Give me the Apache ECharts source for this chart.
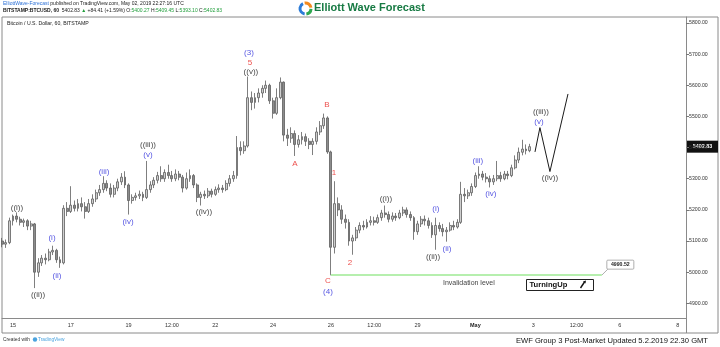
<!DOCTYPE html>
<html>
<head>
<meta charset="utf-8">
<script src="https://cdn.jsdelivr.net/npm/echarts@6/dist/echarts.min.js"></script>
<style>
  html, body { margin: 0; padding: 0; background: #fff; }
  #chart { width: 720px; height: 347px; }
</style>
</head>
<body>
<div id="chart"></div>
<script>
// BTCUSD (Bitstamp) price bars, 3-hour steps; time is hours after 15 Apr 2019 00:00 UTC
const firstBarHour = -9;
const barStepHours = 3;

const opens = [
  5100, 5090, 5095, 5165, 5180, 5170, 5160, 5165, 5148, 5155,
  5000, 5030, 5045, 5040, 5065, 5070, 5040, 5030, 5205, 5195,
  5215, 5205, 5220, 5210, 5195, 5220, 5235, 5255, 5265, 5285,
  5270, 5250, 5270, 5290, 5305, 5280, 5230, 5240, 5245, 5250,
  5240, 5265, 5280, 5295, 5310, 5300, 5320, 5310, 5300, 5315,
  5305, 5270, 5300, 5310, 5280, 5240, 5250, 5245, 5260, 5250,
  5265, 5270, 5265, 5285, 5300, 5310, 5400, 5390, 5405, 5560,
  5545, 5560, 5575, 5590, 5600, 5550, 5510, 5560, 5610, 5440,
  5430, 5445, 5410, 5425, 5435, 5420, 5410, 5420, 5450, 5470,
  5495, 5386, 5080, 5220, 5200, 5170, 5160, 5100, 5110, 5135,
  5150, 5145, 5160, 5165, 5160, 5175, 5190, 5185, 5170, 5180,
  5175, 5190, 5200, 5185, 5175, 5130, 5155, 5170, 5165, 5150,
  5120, 5150, 5140, 5130, 5135, 5150, 5145, 5160, 5250, 5245,
  5255, 5275, 5310, 5315, 5305, 5300, 5290, 5300, 5310, 5300,
  5315, 5310, 5335, 5360, 5385, 5395, 5390
];
const closes = [
  5090, 5095, 5165, 5180, 5170, 5160, 5165, 5148, 5155, 5000,
  5030, 5045, 5040, 5065, 5070, 5040, 5030, 5205, 5195, 5215,
  5205, 5220, 5210, 5195, 5220, 5235, 5255, 5265, 5285, 5270,
  5250, 5270, 5290, 5305, 5280, 5230, 5240, 5245, 5250, 5240,
  5265, 5280, 5295, 5310, 5300, 5320, 5310, 5300, 5315, 5305,
  5270, 5300, 5310, 5280, 5240, 5250, 5245, 5260, 5250, 5265,
  5270, 5265, 5285, 5300, 5310, 5400, 5390, 5405, 5560, 5545,
  5560, 5575, 5590, 5600, 5550, 5510, 5560, 5610, 5440, 5430,
  5445, 5410, 5425, 5435, 5420, 5410, 5420, 5450, 5470, 5495,
  5386, 5080, 5220, 5200, 5170, 5160, 5100, 5110, 5135, 5150,
  5145, 5160, 5165, 5160, 5175, 5190, 5185, 5170, 5180, 5175,
  5190, 5200, 5185, 5175, 5130, 5155, 5170, 5165, 5150, 5120,
  5150, 5140, 5130, 5135, 5150, 5145, 5160, 5250, 5245, 5255,
  5275, 5310, 5315, 5305, 5300, 5290, 5300, 5310, 5300, 5315,
  5310, 5335, 5360, 5385, 5395, 5390, 5402.83
];
const lows = [
  5080, 5078, 5090, 5150, 5160, 5150, 5145, 5135, 5135, 4949,
  4985, 5020, 5025, 5035, 5055, 5030, 5014, 5025, 5180, 5190,
  5195, 5195, 5195, 5172, 5190, 5210, 5225, 5245, 5255, 5260,
  5240, 5240, 5260, 5280, 5270, 5185, 5220, 5230, 5235, 5228,
  5235, 5255, 5270, 5285, 5290, 5290, 5300, 5290, 5292, 5295,
  5256, 5265, 5290, 5270, 5225, 5214, 5235, 5238, 5240, 5245,
  5255, 5255, 5260, 5275, 5290, 5300, 5375, 5380, 5400, 5520,
  5525, 5545, 5560, 5575, 5540, 5493, 5505, 5555, 5420, 5405,
  5415, 5373, 5400, 5410, 5405, 5395, 5376, 5410, 5440, 5460,
  5380, 4990, 5060, 5180, 5155, 5140, 5085, 5056, 5100, 5125,
  5135, 5140, 5150, 5150, 5155, 5165, 5175, 5160, 5162, 5165,
  5170, 5180, 5175, 5165, 5104, 5120, 5145, 5150, 5140, 5110,
  5072, 5130, 5115, 5098, 5130, 5135, 5140, 5155, 5225, 5235,
  5245, 5270, 5300, 5295, 5288, 5272, 5280, 5292, 5290, 5295,
  5298, 5305, 5330, 5350, 5375, 5378, 5385
];
const highs = [
  5110, 5105, 5175, 5185, 5192, 5178, 5172, 5170, 5165, 5158,
  5045, 5055, 5060, 5075, 5085, 5075, 5050, 5215, 5225, 5276,
  5230, 5235, 5240, 5225, 5235, 5250, 5265, 5280, 5308, 5295,
  5285, 5280, 5300, 5318, 5324, 5285, 5250, 5255, 5262, 5258,
  5357, 5292, 5305, 5322, 5340, 5330, 5345, 5325, 5330, 5325,
  5312, 5320, 5330, 5315, 5285, 5258, 5262, 5270, 5268, 5275,
  5282, 5280, 5295, 5312, 5325, 5437, 5420, 5420, 5628, 5580,
  5575, 5590, 5600, 5615, 5605, 5560, 5590, 5625, 5612, 5460,
  5465, 5455, 5440, 5450, 5445, 5430, 5430, 5465, 5485, 5509,
  5500, 5390, 5292, 5240, 5215, 5185, 5170, 5120, 5145, 5160,
  5165, 5170, 5180, 5178, 5185, 5200, 5214, 5195, 5192, 5190,
  5200, 5210, 5208, 5195, 5180, 5165, 5180, 5182, 5175, 5160,
  5175, 5160, 5155, 5145, 5160, 5165, 5170, 5290, 5270, 5265,
  5285, 5320, 5340, 5325, 5318, 5310, 5312, 5357, 5322, 5325,
  5325, 5345, 5375, 5400, 5425, 5410, 5412
];

// Axis ticks
const xTickHours  = [0, 48, 96, 132, 168, 216, 264, 300, 336, 384, 432, 468, 504, 552];
const xTickLabels = ['15', '17', '19', '12:00', '22', '24', '26', '12:00', '29', 'May', '3', '12:00', '6', '8'];
const yTickValues = [4900, 5000, 5100, 5200, 5300, 5400, 5500, 5600, 5700, 5800];

const lastClose = 5402.83;
const invalidationLevel = 4990.52;
const invalidationSpanHours = [264, 489];

// Projected path after the last bar
const projectionHours  = [433.5, 437.6, 445.9, 460.9];
const projectionPrices = [5386, 5464, 5323, 5572];

// Elliott wave labels: text, hour, price, colour key
const waveText  = ['((i))', '((ii))', '(i)', '(ii)', '(iii)', '(iv)', '(v)', '((iii))', '((iv))',
                   '(3)', '5', '((v))', 'A', 'B', '1', '2', 'C', '(4)',
                   '((i))', '((ii))', '(i)', '(ii)', '(iii)', '(iv)', '((iii))', '(v)', '((iv))'];
const waveHour  = [3.3, 20.8, 32.4, 36.6, 75.6, 95.5, 112.1, 112.1, 158.6,
                   196.0, 196.8, 197.6, 234.2, 260.7, 266.6, 279.8, 261.6, 261.6,
                   309.7, 348.8, 351.2, 360.4, 386.1, 396.9, 438.4, 436.8, 445.9];
const wavePrice = [5208, 4927, 5110, 4988, 5322, 5161, 5376, 5408, 5193,
                   5704, 5672, 5643, 5348, 5536, 5319, 5030, 4972, 4937,
                   5235, 5049, 5203, 5075, 5357, 5251, 5514, 5482, 5303];
const waveKind  = ['k', 'k', 'b', 'b', 'b', 'b', 'b', 'k', 'k',
                   'b', 'r', 'k', 'r', 'r', 'r', 'r', 'r', 'b',
                   'k', 'k', 'b', 'b', 'b', 'b', 'k', 'b', 'k'];
const kindColor = { k: '#111111', b: '#2b2bdb', r: '#e8231f' };

const FONT = '"Liberation Sans", Arial, sans-serif';

const bars = opens.map((o, i) => [firstBarHour + i * barStepHours, o, closes[i], lows[i], highs[i]]);

const chart = echarts.init(document.getElementById('chart'), null, { renderer: 'canvas' });

chart.setOption({
  animation: false,
  backgroundColor: '#ffffff',
  grid: { left: 2, right: 34, top: 17, bottom: 29, containLabel: false },
  xAxis: {
    type: 'value',
    min: -9.13,
    max: 558.9,
    axisLine: { show: true, onZero: false, lineStyle: { color: '#8a8a8a', width: 1 } },
    axisTick: { show: false },
    splitLine: { show: false },
    axisLabel: {
      customValues: xTickHours,
      margin: 4,
      fontSize: 5.5,
      fontFamily: FONT,
      color: '#333',
      formatter: v => {
        const i = xTickHours.indexOf(v);
        const t = i >= 0 ? xTickLabels[i] : '';
        return t === 'May' ? '{b|May}' : t;
      },
      rich: { b: { fontWeight: 'bold', fontSize: 5.5, fontFamily: FONT, color: '#222' } }
    }
  },
  yAxis: {
    type: 'value',
    position: 'right',
    min: 4853,
    max: 5819,
    axisLine: { show: true, onZero: false, lineStyle: { color: '#8a8a8a', width: 1 } },
    axisTick: { show: true, customValues: yTickValues, length: 3, lineStyle: { color: '#777' } },
    splitLine: { show: false },
    axisLabel: {
      customValues: yTickValues,
      margin: 3,
      fontSize: 5.2,
      fontFamily: FONT,
      color: '#333',
      formatter: v => v.toFixed(2)
    }
  },
  series: [
    {
      type: 'candlestick',
      data: bars,
      encode: { x: 0, y: [1, 2, 3, 4] },
      barWidth: 2.4,
      itemStyle: {
        color: '#cfcfcf',
        color0: '#8c8c8c',
        borderColor: '#5e5e5e',
        borderColor0: '#5e5e5e',
        borderWidth: 0.8
      },
      markLine: {
        silent: true,
        symbol: ['none', 'none'],
        label: { show: false },
        lineStyle: { color: '#b6efae', width: 2, type: 'solid' },
        data: [[
          { coord: [invalidationSpanHours[0], invalidationLevel] },
          { coord: [invalidationSpanHours[1], invalidationLevel] }
        ]]
      },
      z: 3
    },
    {
      type: 'line',
      data: projectionHours.map((h, i) => [h, projectionPrices[i]]),
      symbol: 'none',
      lineStyle: { color: '#1a1a1a', width: 1 },
      z: 4
    },
    {
      type: 'scatter',
      symbolSize: 0,
      data: waveText.map((t, i) => ({
        name: t,
        value: [waveHour[i], wavePrice[i]],
        label: { color: kindColor[waveKind[i]] }
      })),
      label: {
        show: true,
        position: 'inside',
        formatter: p => p.name,
        fontSize: 8,
        fontFamily: FONT
      },
      z: 5
    }
  ]
});

// Overlays anchored to data values
const lastPx = chart.convertToPixel({ gridIndex: 0 }, [0, lastClose]);
const invEnd = chart.convertToPixel({ gridIndex: 0 }, [invalidationSpanHours[1], invalidationLevel]);

const overlay = [
  // frame
  { type: 'rect', shape: { x: 2, y: 17, width: 716, height: 316 }, style: { fill: 'none', stroke: '#8a8a8a', lineWidth: 1 }, silent: true },
  { type: 'line', shape: { x1: 686.5, y1: 17, x2: 686.5, y2: 333 }, style: { stroke: '#8a8a8a', lineWidth: 1 }, silent: true },

  // header
  {
    type: 'text', left: 3, top: 1,
    style: {
      text: '{l|ElliottWave-Forecast} published on TradingView.com, May 02, 2019 22:27:16 UTC',
      font: '5px ' + FONT, fill: '#222',
      rich: { l: { fill: '#2a6fd6', font: '5px ' + FONT } }
    }
  },
  {
    type: 'text', left: 3, top: 8,
    style: {
      text: '{b|BITSTAMP:BTCUSD, 60}  5402.83 {g|▲} +84.41 (+1.59%) O:{g|5400.27} H:{g|5409.45} L:{g|5393.10} C:{g|5402.83}',
      font: '5px ' + FONT, fill: '#222',
      rich: {
        b: { font: 'bold 5px ' + FONT, fill: '#222' },
        g: { font: '5px ' + FONT, fill: '#1f9d3a' }
      }
    }
  },
  { type: 'text', left: 7, top: 21, style: { text: 'Bitcoin / U.S. Dollar, 60, BITSTAMP', font: '5.2px ' + FONT, fill: '#222' } },

  // brand mark
  { type: 'arc', shape: { cx: 305.5, cy: 8.5, r: 5.5, startAngle: Math.PI * 0.55, endAngle: Math.PI * 1.35 }, style: { stroke: '#2b7bd8', lineWidth: 3, fill: 'none' } },
  { type: 'arc', shape: { cx: 305.5, cy: 8.5, r: 5.5, startAngle: Math.PI * 1.45, endAngle: Math.PI * 1.95 }, style: { stroke: '#f28a1f', lineWidth: 3, fill: 'none' } },
  { type: 'arc', shape: { cx: 305.5, cy: 8.5, r: 5.5, startAngle: Math.PI * 0.02, endAngle: Math.PI * 0.45 }, style: { stroke: '#2fa84f', lineWidth: 3, fill: 'none' } },
  { type: 'text', left: 314, top: 2, style: { text: 'Elliott Wave Forecast', font: 'bold 11px ' + FONT, fill: '#177a43' } },

  // last price tag
  { type: 'rect', shape: { x: 687, y: lastPx[1] - 6, width: 31, height: 12 }, style: { fill: '#111' } },
  { type: 'text', x: 702.5, y: lastPx[1], style: { text: lastClose.toFixed(2), font: 'bold 5.4px ' + FONT, fill: '#fff', align: 'center', verticalAlign: 'middle' } },

  // invalidation callout
  { type: 'line', shape: { x1: invEnd[0], y1: invEnd[1], x2: invEnd[0] + 6, y2: invEnd[1] - 6 }, style: { stroke: '#9a9a9a', lineWidth: 0.8 } },
  { type: 'rect', shape: { x: invEnd[0] + 5, y: invEnd[1] - 15, width: 27, height: 9, r: 1 }, style: { fill: '#fff', stroke: '#9a9a9a', lineWidth: 0.8 } },
  { type: 'text', x: invEnd[0] + 18.5, y: invEnd[1] - 10.5, style: { text: invalidationLevel.toFixed(2), font: 'bold 5.2px ' + FONT, fill: '#222', align: 'center', verticalAlign: 'middle' } },
  { type: 'text', left: 443, top: 280, style: { text: 'Invalidation level', font: '7px ' + FONT, fill: '#444' } },

  // TurningUp tag
  { type: 'rect', shape: { x: 526.5, y: 279.5, width: 67, height: 11 }, style: { fill: '#fff', stroke: '#222', lineWidth: 1 } },
  { type: 'text', left: 529.5, top: 281, style: { text: 'TurningUp', font: 'bold 7.6px ' + FONT, fill: '#111' } },
  { type: 'line', shape: { x1: 580.5, y1: 288, x2: 584.5, y2: 282 }, style: { stroke: '#111', lineWidth: 1.4 } },
  { type: 'polygon', shape: { points: [[583, 281.5], [586, 280.5], [585.5, 283.5]] }, style: { fill: '#111' } },

  // footer
  { type: 'text', left: 3, top: 337, style: { text: 'Created with', font: '4.8px ' + FONT, fill: '#333' } },
  { type: 'circle', shape: { cx: 35, cy: 339.5, r: 2.2 }, style: { fill: '#4aa3df' } },
  { type: 'text', left: 38, top: 337, style: { text: 'TradingView', font: '4.8px ' + FONT, fill: '#4aa3df' } },
  { type: 'text', right: 12, top: 336.5, style: { text: 'EWF Group 3 Post-Market Updated 5.2.2019 22.30 GMT', font: '7.6px ' + FONT, fill: '#111' } }
];

chart.setOption({ graphic: overlay });
</script>
</body>
</html>
